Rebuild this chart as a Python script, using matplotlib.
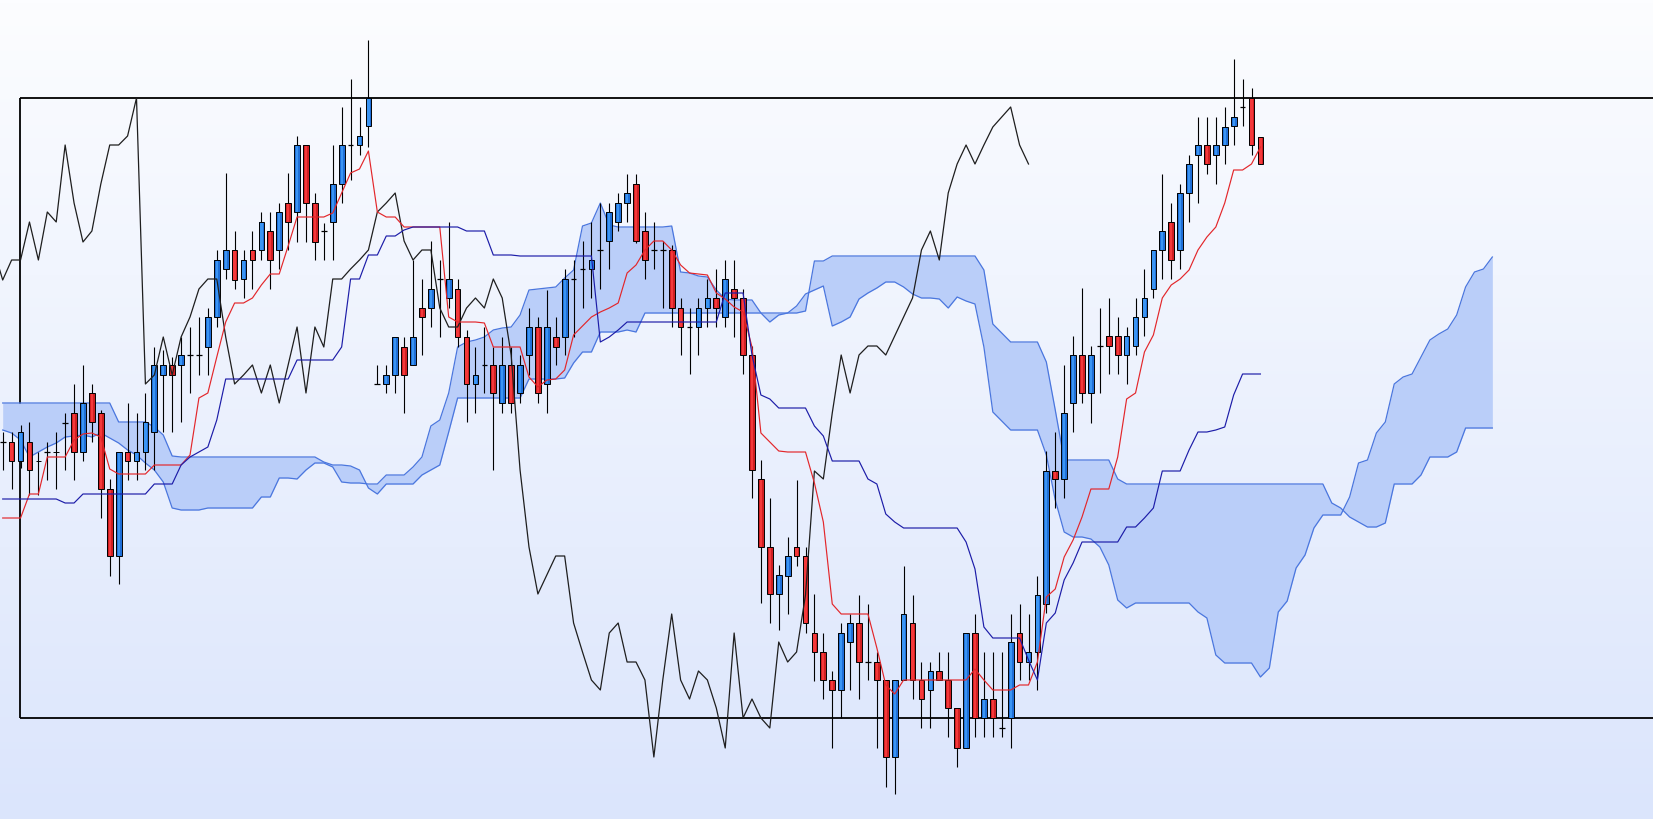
import matplotlib
matplotlib.use("Agg")
import matplotlib.pyplot as plt
import numpy as np
from matplotlib.patches import Rectangle

# Chart levels are screen-like units (0 = top of the picture, 819 = bottom),
# so the y axis is drawn inverted: a smaller number means a higher price.

# candle kind per bar: u = up (blue), d = down (red), x = doji
KIND = ("xduduxuxdu" "ddduduuuud" "uxxuuududu" "dududdxuux" "uuxuududux"
        "udduxduduu" "duduxxuxuu" "uddxxddxuu" "duddddduud" "dddduudxdd"
        "uuddudddud" "udxuduuudu" "uduxdduuuu" "uduuuduuux" "dd")

BODY_TOP = [442, 442, 432, 442, 461, 452, 452, 423, 413, 403,
            393, 413, 489, 452, 452, 452, 422, 365, 365, 365,
            355, 355, 355, 317, 260, 250, 250, 260, 250, 222,
            231, 212, 203, 145, 145, 203, 231, 184, 145, 145,
            136, 98, 384, 375, 337, 347, 337, 308, 289, 279,
            279, 289, 337, 375, 365, 365, 365, 365, 365, 327,
            327, 327, 337, 279, 279, 269, 260, 250, 212, 203,
            193, 184, 231, 250, 250, 250, 308, 327, 308, 298,
            298, 279, 289, 298, 355, 479, 547, 575, 556, 547,
            556, 633, 652, 680, 633, 623, 623, 662, 662, 680,
            680, 614, 623, 680, 671, 671, 680, 708, 633, 633,
            699, 699, 728, 642, 633, 652, 595, 471, 471, 413,
            355, 355, 355, 346, 336, 336, 336, 317, 298, 250,
            231, 222, 193, 164, 145, 145, 145, 127, 117, 107,
            98, 137]
BODY_BOT = [442, 461, 461, 470, 461, 470, 452, 452, 452, 452,
            422, 489, 556, 556, 461, 461, 452, 432, 375, 375,
            365, 355, 355, 347, 317, 269, 280, 279, 260, 250,
            260, 250, 222, 212, 203, 242, 231, 222, 184, 145,
            145, 126, 384, 384, 375, 375, 365, 317, 308, 279,
            298, 337, 384, 384, 365, 393, 403, 403, 393, 355,
            393, 384, 347, 337, 279, 269, 269, 250, 241, 222,
            203, 241, 260, 250, 250, 308, 327, 327, 327, 308,
            308, 317, 298, 355, 470, 547, 594, 594, 576, 556,
            623, 652, 680, 690, 690, 642, 662, 662, 680, 757,
            757, 680, 680, 699, 690, 680, 708, 748, 748, 718,
            718, 718, 728, 718, 662, 662, 652, 604, 479, 479,
            403, 393, 393, 346, 346, 355, 355, 346, 317, 289,
            250, 260, 250, 193, 155, 164, 155, 145, 126, 107,
            145, 164]
WICK_TOP = [432, 432, 425, 422, 452, 442, 432, 413, 384, 365,
            384, 410, 479, 452, 403, 413, 393, 347, 350, 357,
            337, 327, 317, 308, 250, 173, 231, 250, 231, 212,
            212, 203, 173, 136, 145, 193, 223, 145, 107, 79,
            107, 40, 365, 365, 337, 337, 260, 279, 241, 260,
            222, 279, 330, 347, 327, 347, 337, 347, 355, 308,
            317, 290, 317, 269, 260, 241, 222, 203, 203, 193,
            174, 174, 212, 222, 241, 245, 298, 308, 298, 279,
            269, 260, 260, 289, 346, 460, 498, 565, 537, 480,
            547, 594, 633, 671, 623, 614, 595, 604, 652, 680,
            680, 566, 595, 662, 662, 652, 652, 708, 633, 614,
            652, 652, 652, 614, 604, 614, 576, 451, 432, 365,
            336, 288, 346, 308, 298, 317, 327, 298, 269, 250,
            174, 203, 184, 155, 117, 117, 117, 107, 59, 79,
            88, 137]
WICK_BOT = [470, 489, 468, 495, 495, 480, 489, 470, 480, 461,
            442, 518, 576, 584, 480, 480, 470, 470, 432, 432,
            422, 393, 375, 375, 327, 279, 289, 298, 289, 260,
            289, 269, 250, 242, 242, 260, 260, 260, 203, 180,
            155, 147, 384, 393, 393, 413, 365, 355, 327, 337,
            308, 347, 422, 413, 393, 470, 413, 413, 403, 375,
            403, 413, 365, 355, 337, 308, 298, 289, 269, 231,
            222, 243, 279, 269, 308, 327, 355, 374, 355, 327,
            327, 327, 337, 374, 498, 603, 623, 630, 614, 566,
            633, 681, 699, 748, 718, 690, 699, 680, 748, 787,
            794, 680, 699, 728, 728, 680, 737, 767, 748, 737,
            737, 737, 737, 748, 680, 680, 690, 613, 508, 498,
            432, 403, 423, 393, 374, 374, 384, 355, 336, 298,
            279, 279, 269, 222, 203, 174, 184, 164, 145, 126,
            155, 164]

TENKAN = [518, 518, 518, 494, 494, 457, 457, 457, 440, 434,
          433, 437, 469, 474, 474, 474, 474, 465, 465, 465,
          465, 455, 398, 393, 357, 322, 303, 303, 298, 285,
          274, 274, 246, 217, 217, 217, 217, 213, 193, 173,
          169, 151, 212, 217, 217, 227, 227, 227, 227, 227,
          317, 322, 322, 322, 323, 347, 347, 347, 347, 377,
          387, 380, 379, 370, 335, 326, 317, 312, 308, 303,
          273, 265, 250, 241, 241, 250, 265, 273, 274, 275,
          293, 299, 307, 312, 347, 433, 442, 451, 452, 452,
          452, 483, 522, 604, 614, 614, 614, 614, 648, 685,
          694, 680, 680, 680, 680, 680, 680, 680, 680, 669,
          680, 690, 690, 690, 685, 685, 662, 597, 589, 557,
          540, 517, 489, 489, 489, 457, 399, 393, 352, 335,
          298, 285, 279, 270, 250, 237, 227, 203, 170, 170,
          164, 147]
KIJUN = [499, 499, 499, 499, 499, 499, 499, 503, 503, 494,
         494, 494, 494, 494, 494, 494, 494, 484, 484, 484,
         465, 457, 452, 447, 420, 379, 379, 379, 379, 379,
         379, 379, 379, 360, 360, 360, 360, 360, 347, 279,
         279, 255, 255, 236, 236, 230, 227, 227, 227, 227,
         227, 227, 231, 231, 231, 255, 255, 255, 256, 256,
         256, 256, 256, 256, 256, 256, 256, 342, 337, 330,
         322, 322, 322, 322, 322, 322, 322, 322, 322, 322,
         322, 293, 293, 293, 355, 395, 399, 408, 408, 408,
         408, 426, 436, 461, 461, 461, 461, 479, 484, 514,
         522, 528, 528, 528, 528, 528, 528, 528, 542, 569,
         627, 638, 638, 638, 638, 660, 680, 623, 613, 580,
         563, 542, 542, 542, 542, 542, 527, 527, 518, 508,
         471, 471, 471, 450, 432, 432, 430, 427, 395, 374,
         374, 374]

# leading spans, already shifted 26 bars ahead (bars 0..167)
SPAN_A = [430, 433, 440, 457, 452, 447, 443, 437, 436, 435,
          437, 433, 438, 443, 450, 455, 463, 470, 482, 508,
          510, 510, 510, 508, 508, 508, 508, 508, 508, 497,
          497, 478, 478, 479, 470, 463, 463, 467, 482, 483,
          483, 484, 484, 475, 475, 475, 467, 457, 426, 420,
          393, 347, 342, 340, 337, 330, 328, 327, 315, 290,
          289, 288, 287, 278, 270, 226, 223, 203, 225, 227,
          227, 227, 227, 227, 227, 226, 272, 273, 276, 277,
          290, 299, 300, 300, 300, 313, 322, 315, 313, 306,
          294, 290, 286, 326, 322, 317, 299, 293, 288, 282,
          282, 287, 294, 298, 298, 299, 308, 297, 301, 304,
          347, 412, 421, 430, 430, 430, 430, 455, 500, 532,
          537, 537, 539, 547, 565, 600, 608, 603, 603, 603,
          603, 603, 603, 603, 612, 618, 655, 663, 663, 663,
          663, 677, 668, 612, 601, 568, 555, 528, 515, 515,
          515, 497, 463, 460, 433, 422, 384, 377, 374, 357,
          340, 334, 329, 315, 287, 272, 269, 257]
SPAN_B = [403, 403, 403, 403, 403, 403, 403, 403, 403, 403,
          403, 403, 403, 422, 422, 422, 422, 427, 435, 456,
          457, 457, 457, 457, 457, 457, 457, 457, 457, 457,
          457, 457, 457, 457, 457, 457, 462, 465, 465, 466,
          470, 488, 494, 484, 484, 484, 484, 475, 470, 465,
          432, 398, 398, 398, 398, 398, 398, 398, 398, 379,
          379, 379, 379, 378, 363, 352, 352, 332, 332, 332,
          330, 332, 313, 313, 313, 313, 313, 313, 313, 313,
          313, 313, 313, 313, 313, 313, 313, 313, 313, 313,
          311, 261, 261, 256, 256, 256, 256, 256, 256, 256,
          256, 256, 256, 256, 256, 256, 256, 256, 256, 256,
          270, 324, 333, 342, 342, 342, 342, 362, 410, 460,
          460, 460, 460, 460, 460, 479, 484, 484, 484, 484,
          484, 484, 484, 484, 484, 484, 484, 484, 484, 484,
          484, 484, 484, 484, 484, 484, 484, 484, 484, 503,
          508, 517, 522, 527, 527, 523, 484, 484, 484, 475,
          457, 457, 457, 452, 428, 428, 428, 428]

CHIKOU_SHIFT = 26

UP_COLOR = "#1f6fd8"
UP_SHINE = "#3b95f3"
DOWN_COLOR = "#d11f22"
DOWN_SHINE = "#f4393b"
TENKAN_COLOR = "#e3262a"
KIJUN_COLOR = "#1c1ca8"
CHIKOU_COLOR = "#1e1e1e"
CLOUD_FILL = "#bacef9"
CLOUD_EDGE = "#4a76de"


def draw_background(ax):
    top = np.array([252, 253, 255]) / 255
    bottom = np.array([219, 229, 252]) / 255
    t = np.linspace(0, 1, 256)[:, None]
    grad = (top * (1 - t) + bottom * t)[:, None, :]
    ax.imshow(grad, extent=[0, 1, 0, 1], transform=ax.transAxes,
              aspect="auto", origin="upper", zorder=0)


def draw_frame(ax):
    # plot frame: open on the right, it runs off the picture
    left, top, bottom = 20 / 1653, 1 - 98 / 819, 1 - 718 / 819
    kw = dict(color="black", lw=1.3, transform=ax.transAxes, zorder=1,
              solid_capstyle="butt")
    ax.plot([left, 1.01], [top, top], **kw)
    ax.plot([left, 1.01], [bottom, bottom], **kw)
    ax.plot([left, left], [top, bottom], **kw)


def draw_candles(ax, width=0.64):
    for i, k in enumerate(KIND):
        ax.vlines(i, WICK_TOP[i], WICK_BOT[i], color="black", lw=0.8, zorder=4)
        if k == "x":
            ax.hlines(BODY_TOP[i], i - width / 2, i + width / 2,
                      color="black", lw=0.9, zorder=5)
            continue
        base, shine = (UP_COLOR, UP_SHINE) if k == "u" else (DOWN_COLOR, DOWN_SHINE)
        height = BODY_BOT[i] - BODY_TOP[i]
        ax.add_patch(Rectangle((i - width / 2, BODY_TOP[i]), width, height,
                               facecolor=base, edgecolor="none", zorder=5))
        # lighter middle stripe gives the rounded look of the bodies
        ax.add_patch(Rectangle((i - width / 5, BODY_TOP[i]), width * 0.4, height,
                               facecolor=shine, edgecolor="none", zorder=5))
        ax.add_patch(Rectangle((i - width / 2, BODY_TOP[i]), width, height,
                               facecolor="none", edgecolor="black", lw=0.7,
                               zorder=5))


def main():
    fig = plt.figure(figsize=(16.53, 8.19), dpi=100)
    ax = fig.add_axes([0, 0, 1, 1])
    ax.set_axis_off()

    draw_background(ax)
    draw_frame(ax)

    xc = np.arange(len(SPAN_A))
    ax.fill_between(xc, SPAN_A, SPAN_B, color=CLOUD_FILL, lw=0, zorder=2)
    ax.plot(xc, SPAN_A, color=CLOUD_EDGE, lw=0.9, zorder=3)
    ax.plot(xc, SPAN_B, color=CLOUD_EDGE, lw=0.9, zorder=3)

    draw_candles(ax)

    n = len(KIND)
    xb = np.arange(n)
    closes = [BODY_BOT[i] if KIND[i] == "d" else BODY_TOP[i] for i in range(n)]
    start = CHIKOU_SHIFT - 1
    ax.plot(xb[start:] - CHIKOU_SHIFT, closes[start:], color=CHIKOU_COLOR,
            lw=0.9, zorder=6)
    ax.plot(xb, TENKAN, color=TENKAN_COLOR, lw=0.85, zorder=6)
    ax.plot(xb, KIJUN, color=KIJUN_COLOR, lw=0.85, zorder=6)

    # bar i sits at pixel 2.7 + 8.92 * i
    ax.set_xlim(-2.7 / 8.92, (1653 - 2.7) / 8.92)
    ax.set_ylim(819, 0)

    fig.savefig("out.png", dpi=100)
    plt.close(fig)


if __name__ == "__main__":
    main()
